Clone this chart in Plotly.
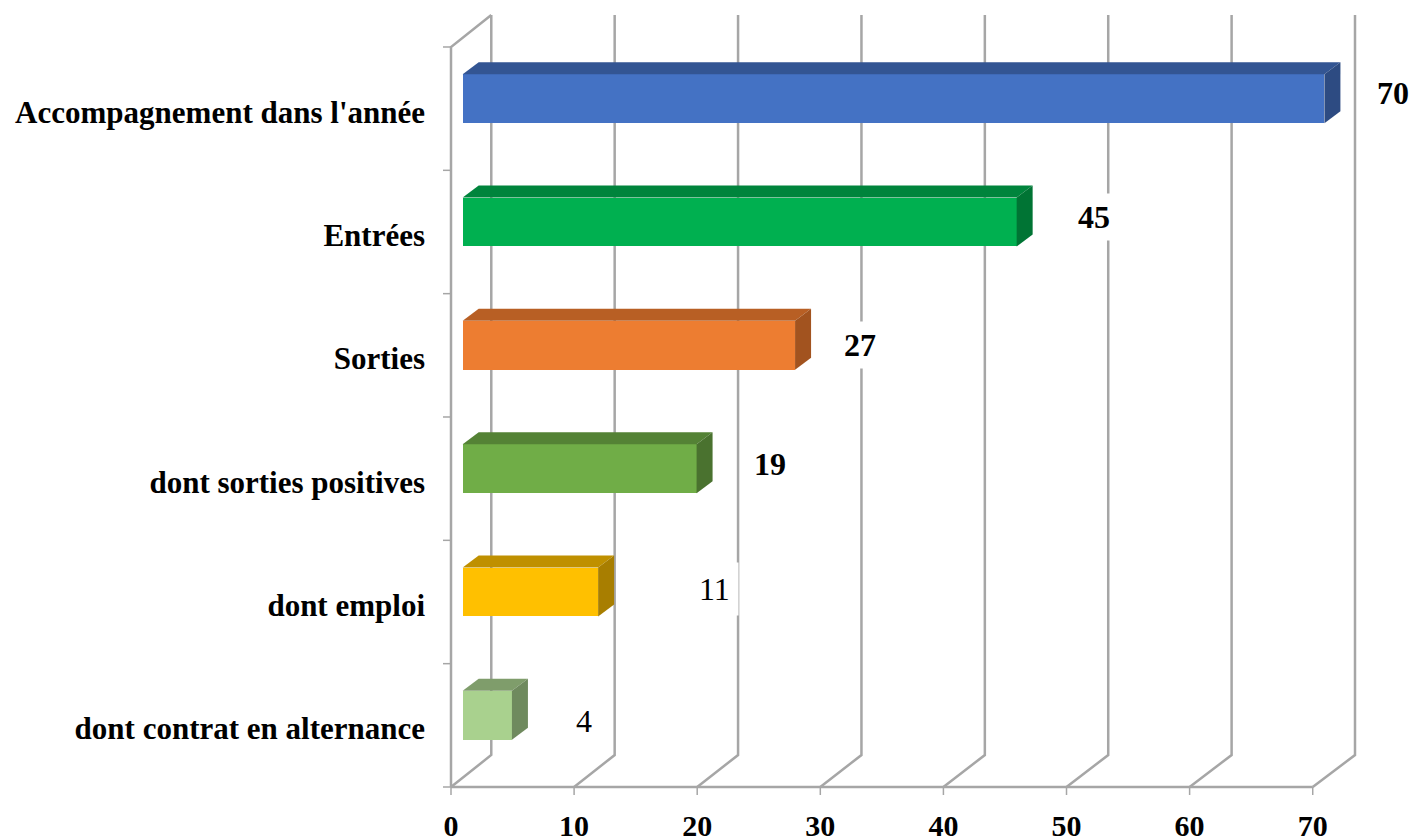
import plotly.graph_objects as go

categories = ["Accompagnement dans l'année", "Entrées", "Sorties",
              "dont sorties positives", "dont emploi", "dont contrat en alternance"]
values = [70, 45, 27, 19, 11, 4]
x_ticks = [0, 10, 20, 30, 40, 50, 60, 70]
front_colors = ["#4472C4", "#00B050", "#ED7D31", "#70AD47", "#FFC000", "#A9D18E"]
top_colors = ["#335593", "#00843C", "#B85F24", "#548235", "#BF9000", "#7F9D6B"]
side_colors = ["#2D4B82", "#007434", "#A2531F", "#4A722F", "#A87E00", "#6F8A5E"]
label_bold = [True, True, True, True, False, False]
label_xshift = [80, 89, 77, 85, 128, 84]
label_yshift = [16, 15, 10, 15, 13, 4]
label_bg = ["rgba(0,0,0,0)", "white", "white", "rgba(0,0,0,0)", "white", "rgba(0,0,0,0)"]
label_pad = [5, 5, 5, 5, 8, 5]

GRID = "#A6A6A6"
FONT = "Liberation Serif"
X0, X70, Y6, Y0 = 450.7, 1312.7, 47.0, 787.3   # page pixels of the axis frame
XU = (X70 - X0) / 70       # px per x unit
YU = (Y0 - Y6) / 6         # px per category
PAD_L, PAD_R, PAD_T, PAD_B = 440.7, 1365.0, 8.0, 797.3  # plot area edges
WALL_DX, WALL_DY = 40.3 / XU, 32 / YU
WALL_SCALE = (1355.0 - 491.0) / (X70 - X0)     # slight perspective of the back wall
BAR_X0 = 11.7 / XU
BAR_DX, BAR_DY = 16 / XU, 12 / YU
BAR_W = 49 / YU
BAR_SHIFT = 10 / YU
TICK_X, TICK_Y = 8 / XU, 8 / YU
LABEL_DROP = 3 / YU

n = len(categories)
rows = [n - 1 - i + 0.5 for i in range(n)]
bar_y = [r + BAR_SHIFT for r in rows]
x_range = [(PAD_L - X0) / XU, (PAD_R - X0) / XU]
y_range = [(Y0 - PAD_B) / YU, (Y0 - PAD_T) / YU]

fig = go.Figure()

# back wall and floor lines, on the base axes (below the overlay)
gx, gy = [], []
for t in x_ticks:
    back = WALL_DX + t * WALL_SCALE
    gx += [t, back, back, None]
    gy += [0, WALL_DY, n + WALL_DY, None]
gx += [0, 0, WALL_DX, None, 0, x_ticks[-1], None]
gy += [0, n, n + WALL_DY, None, 0, 0, None]
fig.add_trace(go.Scatter(x=gx, y=gy, mode="lines", hoverinfo="skip",
                         line=dict(color=GRID, width=2.5), showlegend=False))

# tick marks
tx, ty = [], []
for t in x_ticks:
    tx += [t, t, None]
    ty += [0, -TICK_Y, None]
for k in range(n + 1):
    tx += [-TICK_X, 0, None]
    ty += [k, k, None]
fig.add_trace(go.Scatter(x=tx, y=ty, mode="lines", hoverinfo="skip",
                         line=dict(color=GRID, width=1.5), showlegend=False))

# bars on overlaying axes so they sit over the grid
fig.add_trace(go.Bar(x=values, y=bar_y, base=BAR_X0, orientation="h", width=BAR_W,
                     marker=dict(color=front_colors, line=dict(width=0)),
                     xaxis="x2", yaxis="y2", showlegend=False))

for v, yc, ct, cs in zip(values, bar_y, top_colors, side_colors):
    x0, x1 = BAR_X0, BAR_X0 + v
    yt, yb = yc + BAR_W / 2, yc - BAR_W / 2
    fig.add_trace(go.Scatter(
        x=[x0, x1, x1 + BAR_DX, x0 + BAR_DX, x0], y=[yt, yt, yt + BAR_DY, yt + BAR_DY, yt],
        mode="lines", fill="toself", fillcolor=ct, line=dict(width=0),
        xaxis="x2", yaxis="y2", showlegend=False, hoverinfo="skip"))
    fig.add_trace(go.Scatter(
        x=[x1, x1 + BAR_DX, x1 + BAR_DX, x1, x1], y=[yt, yt + BAR_DY, yb + BAR_DY, yb, yt],
        mode="lines", fill="toself", fillcolor=cs, line=dict(width=0),
        xaxis="x2", yaxis="y2", showlegend=False, hoverinfo="skip"))

for v, r, bold, xs, ys, bg, pad in zip(values, rows, label_bold, label_xshift, label_yshift,
                                       label_bg, label_pad):
    fig.add_annotation(x=v, y=r, xref="x", yref="y", text=f"<b>{v}</b>" if bold else str(v),
                       showarrow=False, xanchor="center", yanchor="middle", xshift=xs, yshift=ys,
                       bgcolor=bg, borderpad=pad,
                       font=dict(family=FONT, size=32, color="#000000"))

fig.update_layout(
    width=1427, height=838, autosize=False,
    margin=dict(l=PAD_L, r=1427 - PAD_R, t=PAD_T, b=838 - PAD_B, pad=0, autoexpand=False),
    paper_bgcolor="white", plot_bgcolor="white",
    xaxis=dict(range=x_range, tickmode="array", tickvals=x_ticks,
               ticktext=[f"<b>{t}</b>" for t in x_ticks],
               showgrid=False, zeroline=False, showline=False, ticks="", ticklabelstandoff=8,
               tickfont=dict(family=FONT, size=30, color="#000000")),
    yaxis=dict(range=y_range, tickmode="array", tickvals=[r - LABEL_DROP for r in rows],
               ticktext=[f"<b>{c}</b>" for c in categories],
               showgrid=False, zeroline=False, showline=False, ticks="", ticklabelstandoff=15,
               tickfont=dict(family=FONT, size=31, color="#000000")),
    xaxis2=dict(range=x_range, overlaying="x", visible=False),
    yaxis2=dict(range=y_range, overlaying="y", visible=False),
    bargap=0,
)

fig.write_html("out.html", config={"displayModeBar": False},
               post_script="document.body.style.margin='0';")
